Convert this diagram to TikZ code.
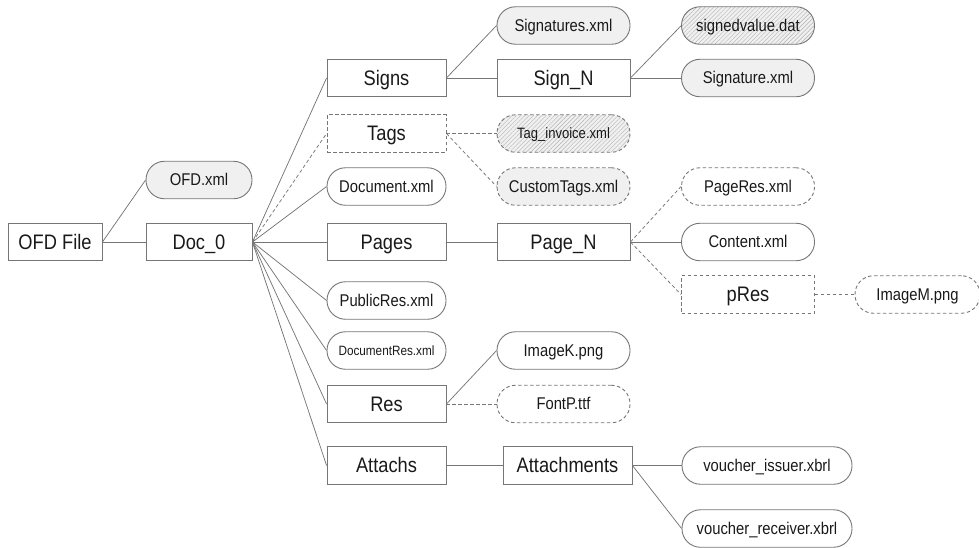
\documentclass[tikz,border=0pt]{standalone}
\usepackage{fontspec}
\setmainfont[FakeStretch=0.87]{Liberation Sans}
\usetikzlibrary{patterns.meta}
\definecolor{ln}{HTML}{767676}
\definecolor{lt}{HTML}{F0F0F0}
\tikzset{
  base/.style={draw=ln,line width=0.9pt,inner sep=0pt,minimum width=119pt,minimum height=37.5pt,text=black!90},
  dsh/.style={dash pattern=on 3.5pt off 2.5pt},
  dirbox/.style={base,text height=15pt,text depth=1pt,font=\fontsize{21}{23}\selectfont},
  filebox/.style={base,rounded corners=18.5pt,text height=12.5pt,text depth=1.5pt,font=\fontsize{17}{19}\selectfont},
  sign/.style={minimum width=133pt},
  shade/.style={fill=lt},
  hatch/.style={preaction={fill=lt},pattern={Lines[angle=45,distance=3pt,line width=0.4pt]},pattern color=black!30},
  con/.style={draw=ln,line width=0.75pt},
  dcon/.style={con,dsh},
}
\begin{document}
\begin{tikzpicture}[x=1pt,y=-1pt]
\useasboundingbox (0,0) rectangle (979,547);
\node[dirbox,minimum width=94pt] (ofd) at (55,242) {OFD File};
\node[dirbox,minimum width=106pt] (doc) at (199,242) {Doc\_0};
\node[filebox,shade,minimum width=106pt] (ofdx) at (199,180) {OFD.xml};
\node[dirbox] (signs) at (386.5,78) {Signs};
\node[dirbox,dsh] (tags) at (386.5,133.5) {Tags};
\node[filebox] (docx) at (386.5,186.5) {Document.xml};
\node[dirbox] (pages) at (386.5,242) {Pages};
\node[filebox] (pub) at (386.5,300.5) {PublicRes.xml};
\node[filebox,font=\fontsize{13.5}{15}\selectfont,text height=10pt,text depth=1pt] (docres) at (386.5,350.5) {DocumentRes.xml};
\node[dirbox] (res) at (386.5,404) {Res};
\node[dirbox] (att) at (386.5,465.5) {Attachs};
\node[filebox,sign,shade] (sigs) at (563.5,25.5) {Signatures.xml};
\node[dirbox,sign] (signn) at (563.5,78) {Sign\_N};
\node[filebox,sign,hatch] (sv) at (748,25.5) {signedvalue.dat};
\node[filebox,sign,shade] (sx) at (748,78) {Signature.xml};
\node[filebox,sign,hatch,dsh,font=\fontsize{15}{17}\selectfont,text height=11pt,text depth=1pt] (ti) at (563.5,133.5) {Tag\_invoice.xml};
\node[filebox,sign,shade,dsh] (ct) at (563.5,186.5) {CustomTags.xml};
\node[dirbox,sign] (pagen) at (563.5,242) {Page\_N};
\node[filebox,sign,dsh] (pr) at (748,186.5) {PageRes.xml};
\node[filebox,sign] (cx) at (748,242) {Content.xml};
\node[dirbox,sign,dsh] (pres) at (748,294.5) {pRes};
\node[filebox,dsh,minimum width=125pt] (im) at (917.5,294.5) {ImageM.png};
\node[filebox,sign] (ik) at (563.5,350.5) {ImageK.png};
\node[filebox,sign,dsh] (fp) at (563.5,404) {FontP.ttf};
\node[dirbox,minimum width=129pt] (atts) at (567.5,465.5) {Attachments};
\node[filebox,minimum width=170pt] (vi) at (767,465.5) {voucher\_issuer.xbrl};
\node[filebox,minimum width=170pt] (vr) at (767,528.5) {voucher\_receiver.xbrl};
\draw[con] (ofd.east) -- (doc.west);
\draw[con] (ofd.east) -- (ofdx.west);
\foreach \t in {signs,docx,pages,pub,docres,res,att} \draw[con] (doc.east) -- (\t.west);
\draw[dcon] (doc.east) -- (tags.west);
\draw[con] (signs.east) -- (sigs.west);
\draw[con] (signs.east) -- (signn.west);
\draw[con] (signn.east) -- (sv.west);
\draw[con] (signn.east) -- (sx.west);
\draw[dcon] (tags.east) -- (ti.west);
\draw[dcon] (tags.east) -- (ct.west);
\draw[con] (pages.east) -- (pagen.west);
\draw[dcon] (pagen.east) -- (pr.west);
\draw[con] (pagen.east) -- (cx.west);
\draw[dcon] (pagen.east) -- (pres.west);
\draw[dcon] (pres.east) -- (im.west);
\draw[con] (res.east) -- (ik.west);
\draw[dcon] (res.east) -- (fp.west);
\draw[con] (att.east) -- (atts.west);
\draw[con] (atts.east) -- (vi.west);
\draw[con] (atts.east) -- (vr.west);
\end{tikzpicture}
\end{document}
